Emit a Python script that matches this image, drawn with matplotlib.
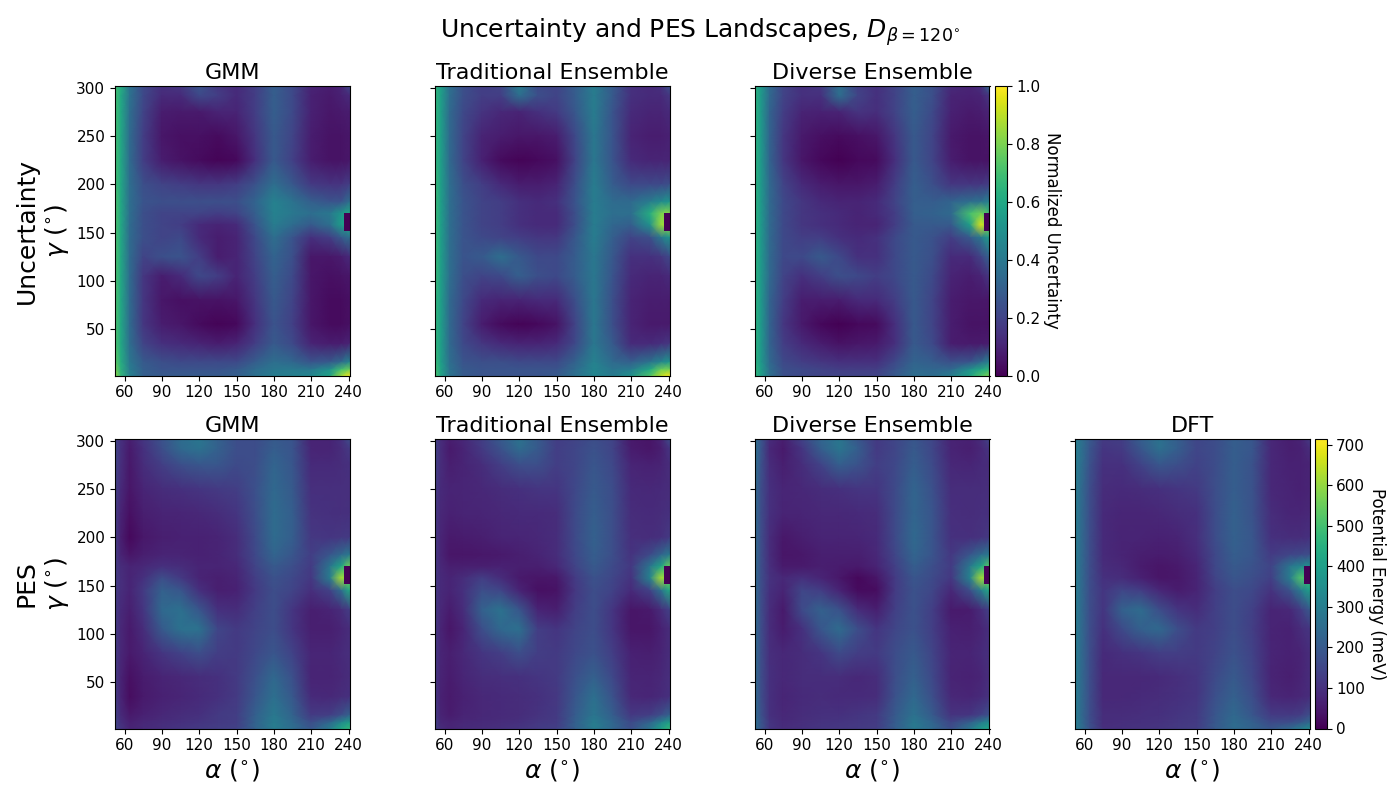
#!/usr/bin/env python3
"""Uncertainty and PES landscapes at beta = 120 deg, values read by eye on a coarse grid."""

import matplotlib
import numpy as np

matplotlib.use("Agg")
import matplotlib.pyplot as plt

ALPHA = [52.3, 57, 64, 75, 90, 105, 120, 135, 150, 165, 180, 195, 210, 225, 234, 240.8]
GAMMA = [302, 292, 275, 250, 225, 200, 182, 170, 158, 145, 125, 105, 80, 55, 35, 16, 8, 2]
ALPHA_TICKS = [60, 90, 120, 150, 180, 210, 240]
GAMMA_TICKS = [50, 100, 150, 200, 250, 300]

# the undefined patch at the right edge, drawn as one dark cell
HOLE_ALPHA = [236.6, 240.8]
HOLE_GAMMA = [152, 170]

# normalized uncertainty in percent, rows follow GAMMA, columns follow ALPHA
UNC_GMM = [
    [70, 62, 38, 22, 14, 16, 26, 16, 12, 18, 30, 22, 10, 8, 10, 22],
    [70, 60, 38, 22, 12, 12, 22, 18, 12, 18, 30, 22, 9, 7, 9, 12],
    [70, 60, 36, 20, 8, 7, 7, 10, 10, 18, 30, 22, 9, 6, 7, 8],
    [70, 60, 35, 18, 6, 4, 4, 3, 6, 16, 28, 20, 8, 5, 5, 6],
    [70, 60, 35, 18, 8, 5, 3, 1, 2, 14, 28, 19, 8, 5, 5, 6],
    [70, 60, 36, 24, 20, 18, 16, 16, 18, 25, 36, 27, 17, 15, 15, 18],
    [72, 60, 36, 26, 24, 24, 24, 24, 24, 32, 44, 38, 30, 26, 26, 36],
    [72, 60, 36, 24, 20, 20, 20, 18, 20, 30, 44, 40, 36, 40, 52, 60],
    [72, 60, 35, 24, 20, 18, 12, 10, 12, 26, 42, 35, 28, 36, 55, 60],
    [72, 60, 35, 24, 20, 22, 12, 8, 10, 22, 36, 26, 14, 18, 28, 36],
    [72, 60, 35, 20, 24, 26, 18, 8, 10, 20, 32, 24, 6, 6, 8, 12],
    [72, 60, 35, 16, 8, 12, 22, 18, 10, 18, 30, 22, 6, 4, 5, 6],
    [72, 60, 35, 16, 6, 4, 5, 5, 6, 16, 28, 20, 6, 3, 3, 4],
    [72, 60, 35, 16, 8, 6, 3, 1, 2, 14, 26, 19, 6, 3, 3, 4],
    [72, 60, 36, 20, 14, 12, 10, 8, 10, 18, 28, 22, 10, 8, 8, 10],
    [76, 62, 40, 28, 24, 22, 22, 22, 22, 29, 36, 33, 26, 28, 34, 45],
    [80, 64, 42, 30, 26, 26, 26, 26, 28, 35, 40, 41, 40, 50, 70, 78],
    [84, 66, 44, 30, 28, 28, 28, 28, 30, 37, 42, 43, 46, 58, 85, 98],
]
UNC_TRAD = [
    [66, 56, 36, 24, 18, 20, 42, 22, 20, 29, 42, 28, 14, 12, 14, 25],
    [66, 56, 36, 24, 18, 18, 36, 24, 20, 29, 42, 28, 14, 12, 12, 16],
    [66, 56, 34, 22, 15, 11, 10, 14, 17, 27, 42, 26, 12, 10, 10, 12],
    [66, 56, 34, 20, 10, 8, 6, 6, 8, 22, 40, 26, 10, 8, 8, 9],
    [66, 56, 34, 20, 9, 3, 1, 2, 4, 20, 40, 26, 12, 10, 10, 10],
    [68, 56, 36, 24, 18, 12, 8, 8, 10, 24, 42, 29, 22, 22, 22, 24],
    [68, 56, 36, 26, 20, 18, 14, 12, 14, 26, 42, 35, 34, 42, 48, 52],
    [68, 56, 36, 26, 20, 18, 14, 12, 12, 24, 42, 36, 36, 62, 80, 82],
    [68, 56, 36, 26, 20, 18, 14, 12, 12, 24, 42, 33, 30, 50, 85, 85],
    [68, 56, 36, 26, 22, 20, 18, 16, 16, 27, 42, 30, 20, 24, 40, 52],
    [68, 56, 36, 26, 28, 36, 28, 22, 22, 29, 40, 27, 14, 14, 16, 22],
    [68, 56, 36, 24, 20, 22, 30, 24, 22, 29, 40, 26, 12, 10, 10, 12],
    [66, 56, 34, 22, 12, 10, 10, 12, 12, 24, 40, 24, 10, 8, 8, 8],
    [66, 56, 34, 20, 8, 3, 1, 2, 5, 20, 40, 24, 10, 7, 7, 7],
    [66, 56, 34, 22, 16, 12, 10, 10, 12, 22, 40, 28, 12, 12, 14, 16],
    [68, 56, 36, 26, 24, 24, 22, 22, 22, 31, 44, 34, 30, 38, 46, 52],
    [70, 58, 38, 28, 26, 26, 26, 26, 26, 35, 46, 39, 42, 60, 78, 80],
    [72, 58, 38, 28, 26, 26, 26, 26, 28, 37, 46, 41, 50, 72, 90, 98],
]
UNC_DIVERSE = [
    [64, 54, 34, 20, 14, 16, 36, 18, 14, 20, 30, 24, 12, 10, 14, 36],
    [64, 54, 34, 20, 14, 14, 36, 20, 14, 20, 30, 24, 10, 9, 10, 16],
    [64, 54, 32, 18, 10, 9, 10, 15, 13, 20, 30, 22, 9, 7, 8, 10],
    [64, 54, 32, 16, 7, 4, 3, 4, 6, 16, 28, 20, 7, 5, 5, 6],
    [64, 54, 32, 16, 6, 2, 0, 2, 3, 14, 28, 20, 8, 5, 5, 5],
    [64, 54, 34, 20, 12, 8, 6, 6, 8, 18, 30, 24, 16, 16, 16, 18],
    [64, 54, 34, 22, 16, 12, 10, 10, 12, 20, 30, 29, 32, 36, 38, 44],
    [64, 54, 34, 22, 16, 14, 12, 10, 12, 18, 30, 31, 34, 70, 78, 68],
    [64, 54, 34, 22, 16, 14, 12, 10, 10, 18, 28, 28, 28, 56, 95, 76],
    [64, 54, 34, 22, 18, 18, 14, 12, 14, 22, 28, 25, 18, 28, 40, 56],
    [64, 54, 34, 22, 22, 28, 22, 14, 14, 22, 28, 24, 12, 12, 20, 32],
    [64, 54, 34, 20, 14, 18, 24, 22, 18, 22, 28, 22, 10, 8, 10, 16],
    [64, 54, 32, 18, 8, 8, 8, 12, 12, 18, 28, 20, 8, 6, 6, 6],
    [64, 54, 32, 16, 7, 2, 0, 2, 3, 14, 28, 20, 8, 5, 5, 5],
    [64, 54, 32, 18, 12, 8, 5, 6, 7, 14, 28, 22, 8, 7, 7, 8],
    [64, 54, 34, 22, 18, 16, 14, 14, 14, 22, 32, 29, 24, 26, 34, 44],
    [66, 56, 36, 24, 22, 20, 18, 18, 18, 26, 34, 33, 34, 50, 60, 66],
    [66, 56, 36, 24, 22, 20, 20, 20, 20, 28, 36, 35, 42, 58, 72, 80],
]

# potential energy in meV
PES_GMM = [
    [150, 100, 60, 110, 180, 250, 280, 220, 170, 165, 200, 185, 70, 70, 100, 170],
    [150, 100, 50, 100, 170, 240, 270, 220, 170, 165, 210, 185, 75, 70, 90, 120],
    [150, 95, 45, 90, 130, 170, 190, 190, 160, 170, 230, 190, 85, 85, 90, 100],
    [140, 85, 40, 75, 90, 100, 110, 120, 130, 175, 240, 200, 95, 95, 95, 95],
    [130, 70, 30, 60, 70, 75, 80, 90, 110, 170, 250, 210, 105, 100, 95, 100],
    [130, 60, 15, 45, 60, 65, 65, 70, 90, 160, 250, 210, 115, 110, 115, 120],
    [130, 70, 40, 60, 70, 70, 65, 70, 90, 155, 230, 190, 130, 190, 240, 290],
    [130, 90, 70, 80, 100, 90, 70, 70, 80, 145, 200, 170, 125, 280, 420, 560],
    [130, 95, 70, 100, 170, 120, 70, 60, 70, 130, 180, 155, 115, 300, 620, 560],
    [130, 95, 70, 120, 220, 190, 100, 60, 65, 120, 170, 145, 95, 140, 250, 430],
    [130, 85, 60, 110, 240, 260, 190, 100, 90, 135, 170, 110, 60, 70, 90, 130],
    [130, 80, 50, 90, 200, 270, 270, 150, 120, 145, 170, 110, 60, 60, 75, 90],
    [130, 80, 50, 70, 110, 140, 170, 130, 120, 155, 190, 140, 75, 75, 85, 95],
    [130, 70, 30, 55, 70, 80, 90, 100, 120, 175, 240, 175, 70, 70, 80, 90],
    [130, 70, 25, 50, 65, 75, 85, 100, 120, 190, 260, 195, 85, 80, 90, 100],
    [140, 85, 50, 65, 80, 90, 100, 120, 130, 215, 290, 225, 120, 130, 170, 220],
    [150, 100, 65, 80, 90, 100, 110, 120, 130, 225, 300, 245, 170, 240, 340, 400],
    [150, 110, 70, 85, 95, 110, 120, 130, 140, 225, 300, 255, 190, 300, 420, 470],
]
PES_TRAD = [
    [140, 90, 60, 80, 130, 200, 270, 200, 130, 145, 170, 145, 50, 40, 70, 170],
    [140, 90, 50, 70, 120, 180, 250, 200, 130, 150, 180, 145, 55, 40, 60, 110],
    [140, 90, 60, 70, 90, 130, 170, 170, 130, 150, 190, 155, 75, 65, 70, 90],
    [130, 85, 70, 75, 80, 90, 100, 110, 110, 155, 200, 165, 85, 80, 85, 90],
    [120, 80, 65, 70, 75, 80, 85, 85, 90, 160, 210, 170, 90, 85, 90, 100],
    [120, 75, 50, 55, 60, 70, 75, 80, 90, 160, 220, 170, 95, 90, 100, 120],
    [120, 75, 40, 40, 45, 50, 60, 70, 90, 155, 210, 170, 105, 160, 230, 290],
    [120, 80, 60, 60, 60, 65, 60, 60, 80, 145, 200, 160, 115, 280, 420, 550],
    [120, 85, 70, 90, 130, 90, 50, 40, 45, 125, 180, 150, 105, 320, 620, 560],
    [120, 85, 70, 100, 170, 150, 70, 30, 35, 115, 170, 140, 85, 140, 270, 430],
    [120, 80, 55, 90, 220, 270, 190, 70, 60, 130, 170, 110, 40, 50, 90, 140],
    [120, 70, 40, 75, 170, 240, 260, 130, 110, 145, 170, 110, 40, 40, 65, 90],
    [120, 75, 60, 80, 110, 130, 170, 130, 120, 155, 180, 130, 65, 60, 70, 90],
    [120, 70, 55, 75, 90, 95, 100, 110, 120, 175, 220, 155, 75, 70, 80, 95],
    [120, 65, 50, 65, 80, 85, 90, 100, 115, 190, 260, 180, 80, 75, 85, 100],
    [130, 70, 55, 70, 80, 85, 90, 105, 120, 205, 280, 210, 115, 130, 170, 220],
    [140, 80, 70, 80, 85, 90, 100, 115, 125, 215, 300, 235, 160, 230, 330, 400],
    [140, 90, 75, 85, 90, 100, 110, 125, 135, 215, 300, 235, 170, 280, 400, 470],
]
PES_DIVERSE = [
    [260, 190, 90, 60, 140, 230, 280, 190, 120, 150, 190, 150, 70, 65, 90, 150],
    [260, 190, 80, 50, 110, 210, 280, 210, 120, 150, 200, 150, 70, 60, 80, 110],
    [260, 180, 90, 60, 90, 140, 210, 180, 130, 155, 210, 160, 80, 75, 85, 90],
    [250, 170, 100, 75, 80, 90, 100, 110, 110, 160, 230, 175, 90, 90, 90, 95],
    [250, 170, 100, 70, 75, 80, 80, 85, 90, 160, 230, 185, 95, 90, 95, 100],
    [250, 170, 90, 45, 60, 70, 70, 75, 85, 160, 240, 185, 100, 95, 105, 120],
    [250, 170, 90, 40, 45, 60, 60, 60, 80, 150, 230, 185, 115, 190, 250, 290],
    [250, 170, 95, 50, 50, 60, 55, 50, 70, 135, 210, 170, 125, 290, 420, 530],
    [250, 170, 105, 80, 100, 75, 45, 15, 40, 125, 190, 160, 115, 320, 620, 560],
    [250, 170, 100, 70, 150, 130, 70, 20, 25, 125, 180, 150, 80, 170, 300, 430],
    [250, 170, 90, 50, 160, 220, 180, 90, 60, 135, 180, 130, 50, 55, 90, 140],
    [250, 170, 90, 55, 100, 190, 250, 170, 110, 150, 180, 130, 65, 60, 75, 100],
    [250, 170, 95, 80, 90, 110, 160, 130, 120, 165, 200, 145, 75, 70, 85, 100],
    [250, 170, 100, 80, 90, 90, 90, 80, 90, 170, 220, 155, 70, 65, 75, 95],
    [250, 170, 100, 75, 85, 90, 85, 85, 90, 180, 240, 170, 80, 75, 85, 105],
    [250, 180, 100, 80, 90, 100, 100, 110, 120, 200, 270, 200, 105, 110, 140, 180],
    [260, 190, 110, 85, 95, 105, 110, 115, 125, 205, 290, 230, 150, 220, 300, 350],
    [260, 190, 110, 90, 100, 110, 115, 120, 130, 210, 290, 240, 170, 280, 380, 420],
]
PES_DFT = [
    [300, 270, 200, 120, 130, 210, 270, 210, 150, 165, 210, 190, 80, 60, 70, 120],
    [300, 270, 190, 110, 120, 190, 260, 210, 150, 165, 210, 190, 80, 60, 65, 90],
    [300, 260, 180, 100, 100, 140, 190, 170, 140, 165, 210, 180, 80, 65, 65, 70],
    [300, 250, 170, 90, 85, 90, 100, 110, 120, 170, 210, 180, 80, 70, 65, 70],
    [300, 250, 170, 85, 75, 75, 80, 90, 100, 165, 220, 180, 90, 75, 75, 80],
    [300, 250, 170, 85, 70, 70, 65, 70, 95, 165, 220, 190, 100, 90, 90, 100],
    [300, 250, 170, 85, 70, 60, 55, 60, 85, 155, 210, 190, 125, 150, 160, 170],
    [300, 250, 170, 90, 80, 55, 40, 50, 75, 155, 200, 180, 145, 280, 330, 360],
    [300, 250, 170, 100, 90, 65, 40, 45, 70, 145, 190, 170, 135, 300, 520, 480],
    [300, 250, 170, 110, 150, 130, 80, 55, 70, 130, 170, 155, 105, 180, 300, 400],
    [300, 250, 170, 110, 220, 250, 170, 110, 90, 135, 170, 135, 70, 80, 130, 200],
    [300, 250, 170, 100, 160, 220, 240, 170, 120, 135, 170, 130, 70, 65, 90, 110],
    [300, 250, 170, 85, 100, 110, 130, 130, 120, 145, 180, 140, 75, 65, 70, 90],
    [300, 250, 170, 80, 80, 80, 85, 95, 110, 160, 200, 150, 70, 60, 70, 90],
    [300, 250, 170, 80, 80, 85, 90, 100, 110, 175, 220, 165, 80, 70, 80, 90],
    [300, 250, 170, 90, 90, 95, 100, 110, 120, 190, 240, 190, 125, 120, 130, 170],
    [300, 255, 170, 90, 95, 100, 105, 115, 125, 195, 250, 215, 160, 170, 200, 240],
    [300, 260, 180, 95, 100, 105, 110, 120, 130, 200, 250, 225, 190, 240, 300, 340],
]

TITLES = ["GMM", "Traditional Ensemble", "Diverse Ensemble", "DFT"]
UNC_PANELS = [UNC_GMM, UNC_TRAD, UNC_DIVERSE]
PES_PANELS = [PES_GMM, PES_TRAD, PES_DIVERSE, PES_DFT]
PES_MAX = 714

FIG_W, FIG_H = 1400, 800
COL_LEFT = [115, 435, 755, 1075]
ROW_TOP = [86, 439]
AX_W, AX_H = 234.5, 289.5


def add_axes_px(fig, left, top, width, height):
    return fig.add_axes(
        [left / FIG_W, 1 - (top + height) / FIG_H, width / FIG_W, height / FIG_H]
    )


def draw_panel(fig, left, top, values, vmax, title, scale=1.0):
    ax = add_axes_px(fig, left, top, AX_W, AX_H)
    grid = np.asarray(values, dtype=float) * scale
    mesh = ax.pcolormesh(
        ALPHA, GAMMA, grid, shading="gouraud", cmap="viridis", vmin=0, vmax=vmax
    )
    ax.pcolormesh(HOLE_ALPHA, HOLE_GAMMA, [[0.0]], cmap="viridis", vmin=0, vmax=vmax)
    ax.set_xlim(ALPHA[0], ALPHA[-1])
    ax.set_ylim(GAMMA[-1], GAMMA[0])
    ax.set_xticks(ALPHA_TICKS)
    ax.set_yticks(GAMMA_TICKS)
    ax.tick_params(axis="both", labelsize=11)
    ax.set_title(title, fontsize=16, pad=5)
    return ax, mesh


def add_colorbar(fig, left, top, mesh, label):
    cax = add_axes_px(fig, left + AX_W + 5, top, 12, AX_H)
    cbar = fig.colorbar(mesh, cax=cax)
    cbar.ax.tick_params(labelsize=11)
    cbar.set_label(label, fontsize=12, rotation=270, labelpad=15)
    return cbar


def main():
    fig = plt.figure(figsize=(14, 8), dpi=100)
    fig.suptitle(
        r"Uncertainty and PES Landscapes, $D_{\beta=120^{\circ}}$",
        fontsize=18,
        x=0.5,
        y=0.98,
    )

    for i, values in enumerate(UNC_PANELS):
        ax, mesh = draw_panel(fig, COL_LEFT[i], ROW_TOP[0], values, 1.0, TITLES[i], 0.01)
        if i == 0:
            ax.set_ylabel("Uncertainty\n" + r"$\gamma$ ($^{\circ}$)", fontsize=18)
        else:
            ax.set_yticklabels([])
    add_colorbar(fig, COL_LEFT[2], ROW_TOP[0], mesh, "Normalized Uncertainty")

    for i, values in enumerate(PES_PANELS):
        ax, mesh = draw_panel(fig, COL_LEFT[i], ROW_TOP[1], values, PES_MAX, TITLES[i])
        ax.set_xlabel(r"$\alpha$ ($^{\circ}$)", fontsize=18, labelpad=3)
        if i == 0:
            ax.set_ylabel("PES\n" + r"$\gamma$ ($^{\circ}$)", fontsize=18)
        else:
            ax.set_yticklabels([])
    add_colorbar(fig, COL_LEFT[3], ROW_TOP[1], mesh, "Potential Energy (meV)")

    fig.savefig("out.png", dpi=100)
    plt.close(fig)


if __name__ == "__main__":
    main()
